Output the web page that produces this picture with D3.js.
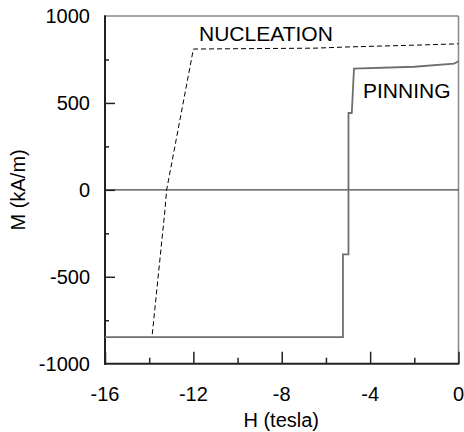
<!DOCTYPE html>
<html>
<head>
<meta charset="utf-8">
<script src="https://cdn.jsdelivr.net/npm/d3@7/dist/d3.min.js"></script>
<style>
  html, body { margin: 0; padding: 0; background: #fff; }
  svg { display: block; font-family: "Liberation Sans", Arial, sans-serif; }
</style>
</head>
<body>
<svg id="chart" width="464" height="432"></svg>
<script>
// Demagnetisation branches: field H (tesla) vs magnetisation M (kA/m)
const nucleationH = [-13.86, -13.29, -13.21, -12.0, -6.5, -5.0, -1.5, 0];
const nucleationM = [-830, -121, 0, 810, 815, 822, 834, 840];

const pinningH = [-16, -5.23, -5.23, -4.98, -4.98, -4.83, -4.73, -2.0, -0.2, 0];
const pinningM = [-847, -847, -371, -371, 442, 442, 698, 708, 726, 740];

const xMajorTicks = [-16, -12, -8, -4, 0];
const xMinorTicks = [-14, -10, -6, -2];
const yMajorTicks = [-1000, -500, 0, 500, 1000];
const yMinorTicks = [-750, -250, 250, 750];

const svg = d3.select("#chart");
const plotLeft = 105, plotRight = 458.5, plotTop = 16, plotBottom = 363.7;

const x = d3.scaleLinear().domain([-16, 0]).range([plotLeft, plotRight]);
const y = d3.scaleLinear().domain([-1000, 1000]).range([plotBottom, plotTop]);

// frame: light top/right, dark left/bottom
svg.append("line").attr("x1", plotLeft).attr("x2", plotRight).attr("y1", plotTop).attr("y2", plotTop)
  .attr("stroke", "#888").attr("stroke-width", 1.5);
svg.append("line").attr("x1", plotRight).attr("x2", plotRight).attr("y1", plotTop).attr("y2", plotBottom)
  .attr("stroke", "#888").attr("stroke-width", 1.5);

// zero line
svg.append("line").attr("x1", plotLeft).attr("x2", plotRight).attr("y1", y(0)).attr("y2", y(0))
  .attr("stroke", "#444").attr("stroke-width", 1.2);

// bottom axis
const xAxis = svg.append("g").attr("transform", `translate(0,${plotBottom})`)
  .call(d3.axisTop(x).tickValues(xMajorTicks).tickSize(12).tickFormat(""));
const xAxisMinor = svg.append("g").attr("transform", `translate(0,${plotBottom})`)
  .call(d3.axisTop(x).tickValues(xMinorTicks).tickSize(6).tickFormat(""));
[xAxis, xAxisMinor].forEach(g => {
  g.select(".domain").remove();
  g.selectAll(".tick line").attr("stroke", "#222").attr("stroke-width", 1.5);
});
svg.append("line").attr("x1", plotLeft - 1).attr("x2", plotRight + 0.75).attr("y1", plotBottom).attr("y2", plotBottom)
  .attr("stroke", "#222").attr("stroke-width", 2);
svg.append("g").selectAll("text").data(xMajorTicks).join("text")
  .attr("x", d => x(d)).attr("y", 401)
  .attr("text-anchor", "middle").attr("font-size", 20).attr("fill", "#000")
  .text(d => d);

// left axis
const yAxis = svg.append("g").attr("transform", `translate(${plotLeft},0)`)
  .call(d3.axisRight(y).tickValues(yMajorTicks.filter(d => Math.abs(d) < 1000)).tickSize(10).tickFormat(""));
const yAxisMinor = svg.append("g").attr("transform", `translate(${plotLeft},0)`)
  .call(d3.axisRight(y).tickValues(yMinorTicks).tickSize(4).tickFormat(""));
[yAxis, yAxisMinor].forEach(g => {
  g.select(".domain").remove();
  g.selectAll(".tick line").attr("stroke", "#222").attr("stroke-width", 1.5);
});
svg.append("line").attr("x1", plotLeft).attr("x2", plotLeft).attr("y1", plotTop - 0.75).attr("y2", plotBottom + 1)
  .attr("stroke", "#222").attr("stroke-width", 2);
svg.append("g").selectAll("text").data(yMajorTicks).join("text")
  .attr("x", 90).attr("y", d => y(d)).attr("dy", "0.36em")
  .attr("text-anchor", "end").attr("font-size", 20).attr("fill", "#000")
  .text(d => d);

// axis titles
svg.append("text").attr("x", (plotLeft + plotRight) / 2 - 0.5).attr("y", 427)
  .attr("text-anchor", "middle").attr("font-size", 20).text("H (tesla)");
svg.append("text").attr("transform", `translate(25,${y(0)}) rotate(-90)`)
  .attr("text-anchor", "middle").attr("font-size", 20).text("M (kA/m)");

const line = d3.line().x(d => x(d[0])).y(d => y(d[1]));

// pinning branch (solid grey)
svg.append("path")
  .datum(pinningH.map((h, i) => [h, pinningM[i]]))
  .attr("d", line).attr("fill", "none")
  .attr("stroke", "#6e6e6e").attr("stroke-width", 1.8);

// nucleation branch (dashed black)
svg.append("path")
  .datum(nucleationH.map((h, i) => [h, nucleationM[i]]))
  .attr("d", line).attr("fill", "none")
  .attr("stroke", "#000").attr("stroke-width", 1).attr("stroke-dasharray", "5,3");

// curve labels
svg.append("text").attr("x", 199).attr("y", 41).attr("font-size", 21).text("NUCLEATION");
svg.append("text").attr("x", 363).attr("y", 98).attr("font-size", 21).text("PINNING");
</script>
</body>
</html>
